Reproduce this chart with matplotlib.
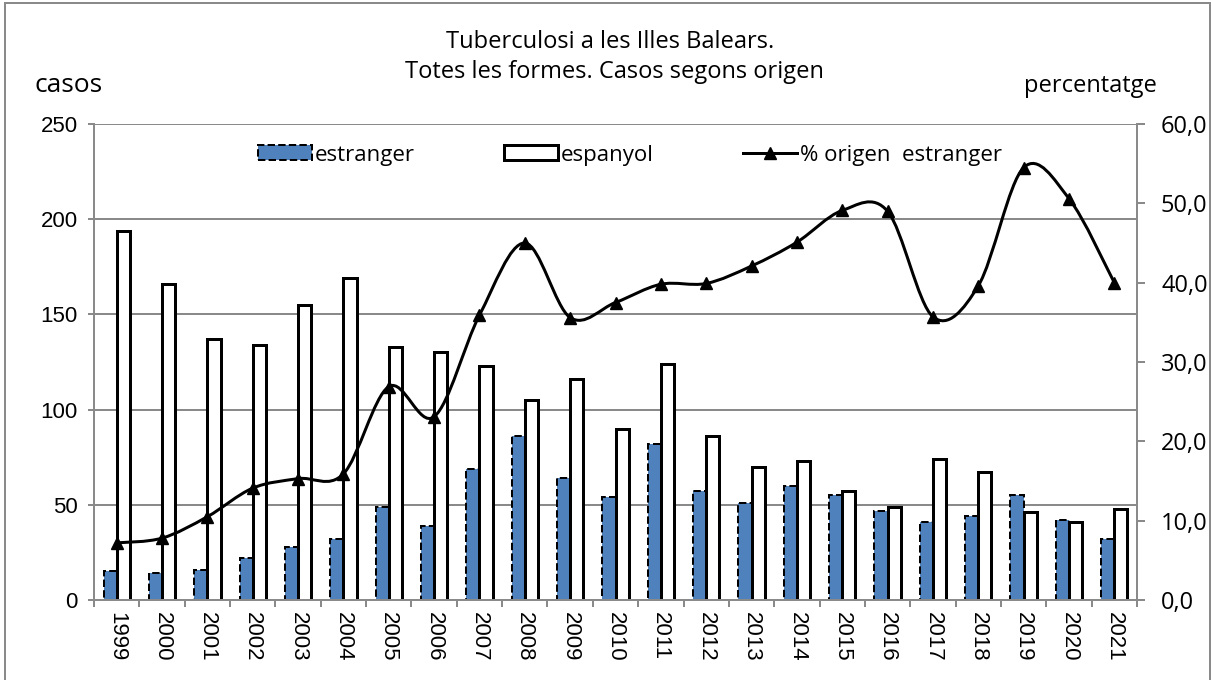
import numpy as np
import matplotlib
matplotlib.use('Agg')
import matplotlib.pyplot as plt
from matplotlib.path import Path
from matplotlib.patches import PathPatch, Patch, Rectangle
from matplotlib.lines import Line2D

years = ['1999', '2000', '2001', '2002', '2003', '2004', '2005', '2006', '2007', '2008',
         '2009', '2010', '2011', '2012', '2013', '2014', '2015', '2016', '2017', '2018',
         '2019', '2020', '2021']
estranger = [15, 14, 16, 22, 28, 32, 49, 39, 69, 86, 64, 54, 82, 57, 51, 60, 55, 47, 41, 44, 55, 42, 32]
espanyol = [194, 166, 137, 134, 155, 169, 133, 130, 123, 105, 116, 90, 124, 86, 70, 73, 57, 49, 74, 67, 46, 41, 48]
pct_estranger = [7.2, 7.8, 10.5, 14.1, 15.3, 15.9, 26.9, 23.1, 35.9, 45.0, 35.6, 37.5, 39.8, 39.9,
                 42.1, 45.1, 49.1, 49.0, 35.7, 39.6, 54.5, 50.6, 40.0]

SANS = ['Open Sans', 'DejaVu Sans']
ARIAL = ['Liberation Sans', 'DejaVu Sans']
GRAY = '#8a8a8a'
BLUE = '#4f81bd'
PX = 0.72  # points per pixel at dpi 100


def smooth_path(xs, ys):
    # bezier smoothing like a spreadsheet "smoothed line"
    pts = np.column_stack([xs, ys]).astype(float)
    n = len(pts)
    verts = [pts[0]]
    codes = [Path.MOVETO]
    for i in range(n - 1):
        p0 = pts[max(i - 1, 0)]
        p1 = pts[i]
        p2 = pts[i + 1]
        p3 = pts[min(i + 2, n - 1)]
        c1 = p1 + (p2 - p0) / 6.0
        c2 = p2 - (p3 - p1) / 6.0
        verts += [c1, c2, p2]
        codes += [Path.CURVE4] * 3
    return Path(verts, codes)


fig = plt.figure(figsize=(12.12, 6.8), dpi=100)
ax = fig.add_axes([94 / 1212, 1 - 600 / 680, (1137 - 94) / 1212, (600 - 124) / 680])
ax2 = ax.twinx()

x = np.arange(len(years))
w = 0.29
ax.bar(x - w / 2, estranger, w, color=BLUE, edgecolor='black', linestyle='--', linewidth=2 * PX, zorder=3)
ax.bar(x + w / 2, espanyol, w, color='white', edgecolor='black', linewidth=3 * PX, zorder=3)

ax.set_xlim(-0.5, len(years) - 0.5)
ax.set_ylim(0, 250)
ax.set_yticks(range(0, 251, 50))
ax.yaxis.grid(True, color=GRAY, linewidth=2 * PX)
ax.set_axisbelow(True)
ax.set_xticks(x)
ax.set_xticklabels(years, rotation=270, family=ARIAL, fontsize=16)
ax.set_xticks(np.arange(-0.5, len(years), 1), minor=True)
ax.tick_params(axis='x', which='major', length=0, pad=12 * PX)
ax.tick_params(axis='x', which='minor', length=7 * PX, width=2 * PX, color=GRAY)
ax.tick_params(axis='y', length=6 * PX, width=2 * PX, color=GRAY, pad=10 * PX)
for lab in ax.get_yticklabels():
    lab.set_family(ARIAL)
    lab.set_fontsize(16)

ax2.set_ylim(0, 60)
ax2.set_yticks(range(0, 61, 10))
ax2.set_yticklabels([f'{v},0' for v in range(0, 61, 10)], family=SANS, fontsize=17)
ax2.tick_params(axis='y', length=8 * PX, width=2 * PX, color=GRAY, pad=16 * PX)

for a in (ax, ax2):
    for side in ('top', 'bottom', 'left', 'right'):
        a.spines[side].set_color(GRAY)
        a.spines[side].set_linewidth(2 * PX)
ax.spines['top'].set_visible(False)
ax2.spines['top'].set_visible(False)

path = smooth_path(x, pct_estranger)
ax2.add_patch(PathPatch(path, facecolor='none', edgecolor='black', linewidth=3 * PX, zorder=4))
ax2.plot(x, pct_estranger, linestyle='none', marker='^', markersize=12 * PX, color='black', zorder=5)

fig.text(610 / 1212, 1 - 42 / 680, 'Tuberculosi a les Illes Balears.', ha='center', va='center',
         family=SANS, fontsize=17)
fig.text(614 / 1212, 1 - 72 / 680, 'Totes les formes. Casos segons origen', ha='center', va='center',
         family=SANS, fontsize=17)
fig.text(35 / 1212, 1 - 86 / 680, 'casos', ha='left', va='center', family=SANS, fontsize=19)
fig.text(1157 / 1212, 1 - 86 / 680, 'percentatge', ha='right', va='center', family=SANS, fontsize=17)

handles = [Patch(facecolor=BLUE, edgecolor='black', linestyle='--', linewidth=2 * PX),
           Patch(facecolor='white', edgecolor='black', linewidth=3 * PX),
           Line2D([], [], color='black', linewidth=3 * PX, marker='^', markersize=12 * PX)]
labels = ['estranger', 'espanyol', '% origen  estranger']
fig.legend(handles, labels, loc='center', bbox_to_anchor=(630 / 1212, 1 - 155 / 680), ncol=3,
           frameon=False, prop={'family': SANS, 'size': 16}, handlelength=2.43, handleheight=0.63,
           handletextpad=0.15, columnspacing=4.0)

fig.patches.append(Rectangle((5 / 1212, -0.01), 1205 / 1212, 1 - 3 / 680 + 0.01, transform=fig.transFigure,
                             fill=False, edgecolor=GRAY, linewidth=2 * PX))

fig.savefig('out.png', dpi=100)
